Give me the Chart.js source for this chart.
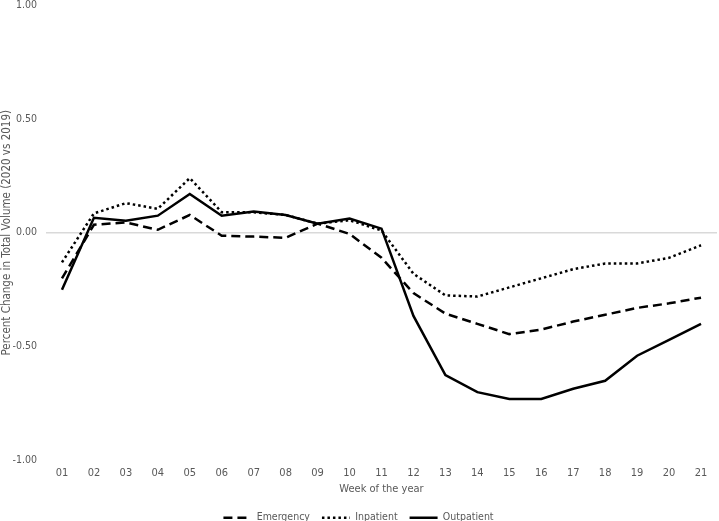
<!DOCTYPE html>
<html>
<head>
<meta charset="utf-8">
<script src="https://cdn.jsdelivr.net/npm/chart.js@4.4.0/dist/chart.umd.min.js"></script>
<style>
    html, body { margin: 0; padding: 0; background: #fff; }
    #wrap { width: 719px; height: 521px; }
</style>
</head>
<body>
<div id="wrap"><canvas id="volumeChart" width="719" height="521"></canvas></div>
<script>
// data
const weeks = ['01', '02', '03', '04', '05', '06', '07', '08', '09', '10', '11',
    '12', '13', '14', '15', '16', '17', '18', '19', '20', '21'];
const emergency = [-0.20, 0.035, 0.045, 0.013, 0.078, -0.013, -0.017, -0.022, 0.04, -0.005, -0.11,
    -0.265, -0.355, -0.40, -0.445, -0.425, -0.39, -0.36, -0.33, -0.31, -0.285];
const inpatient = [-0.13, 0.085, 0.13, 0.105, 0.24, 0.09, 0.09, 0.078, 0.04, 0.055, 0.01,
    -0.18, -0.275, -0.28, -0.24, -0.20, -0.16, -0.135, -0.135, -0.11, -0.055];
const outpatient = [-0.25, 0.066, 0.053, 0.075, 0.17, 0.075, 0.093, 0.078, 0.04, 0.062, 0.018,
    -0.365, -0.625, -0.70, -0.73, -0.73, -0.685, -0.65, -0.54, -0.47, -0.40];
const yTicks = [-1, -0.5, 0, 0.5, 1];

const fontFamily = "'Liberation Sans Narrow', 'DejaVu Sans Condensed', 'Liberation Sans', sans-serif";
const grey = '#595959';

Chart.defaults.font.family = fontFamily;
Chart.defaults.color = grey;

var ctx = document.getElementById('volumeChart').getContext('2d');
var volumeChart = new Chart(ctx, {
    type: 'line',
    data: {
        labels: weeks,
        datasets: [{
            label: 'Emergency',
            data: emergency,
            borderColor: '#000',
            borderWidth: 2.5,
            borderDash: [9, 5],
            pointRadius: 0,
            tension: 0,
            fill: false
        }, {
            label: 'Inpatient',
            data: inpatient,
            borderColor: '#000',
            borderWidth: 2.5,
            borderDash: [2.5, 3],
            pointRadius: 0,
            tension: 0,
            fill: false
        }, {
            label: 'Outpatient',
            data: outpatient,
            borderColor: '#000',
            borderWidth: 2.5,
            pointRadius: 0,
            tension: 0,
            fill: false
        }]
    },
    options: {
        responsive: false,
        animation: false,
        layout: {
            padding: { top: 0, right: 2, left: 0, bottom: -12 }
        },
        plugins: {
            legend: {
                position: 'bottom',
                labels: {
                    usePointStyle: true,
                    pointStyle: 'line',
                    pointStyleWidth: 28,
                    boxHeight: 10,
                    padding: 12,
                    color: grey,
                    font: { size: 10.5 },
                    // the point style path drops the dash, so put it back
                    generateLabels: function (chart) {
                        const items = Chart.defaults.plugins.legend.labels.generateLabels(chart);
                        items.forEach(function (item) {
                            const ds = chart.data.datasets[item.datasetIndex];
                            item.lineDash = ds.borderDash || [];
                            item.lineWidth = 2.5;
                            item.strokeStyle = '#000';
                        });
                        return items;
                    }
                }
            },
            tooltip: { enabled: false }
        },
        scales: {
            x: {
                offset: true,
                grid: { display: false, drawTicks: false },
                border: { display: false },
                ticks: { padding: 6, font: { size: 11 }, maxRotation: 0 },
                afterFit: function (scale) {
                    scale.height = 40;
                },
                title: {
                    display: true,
                    text: 'Week of the year',
                    font: { size: 11 },
                    padding: { top: 0, bottom: 5 }
                }
            },
            y: {
                min: -1,
                max: 1,
                afterBuildTicks: function (scale) {
                    scale.ticks = yTicks.map(v => ({ value: v }));
                },
                afterFit: function (scale) {
                    scale.width = 46;
                    scale.paddingTop = 5;
                    scale.paddingBottom = 0;
                },
                grid: {
                    drawTicks: false,
                    color: c => (c.tick && c.tick.value === 0) ? '#d9d9d9' : 'rgba(0,0,0,0)',
                    lineWidth: 1.5
                },
                border: { display: false },
                ticks: {
                    padding: 9,
                    font: { size: 10.5 },
                    callback: v => v.toFixed(2)
                },
                title: {
                    display: true,
                    text: 'Percent Change in Total Volume (2020 vs 2019)',
                    font: { size: 11.5 },
                    padding: { top: 0, bottom: 0 }
                }
            }
        }
    }
});
</script>
</body>
</html>
